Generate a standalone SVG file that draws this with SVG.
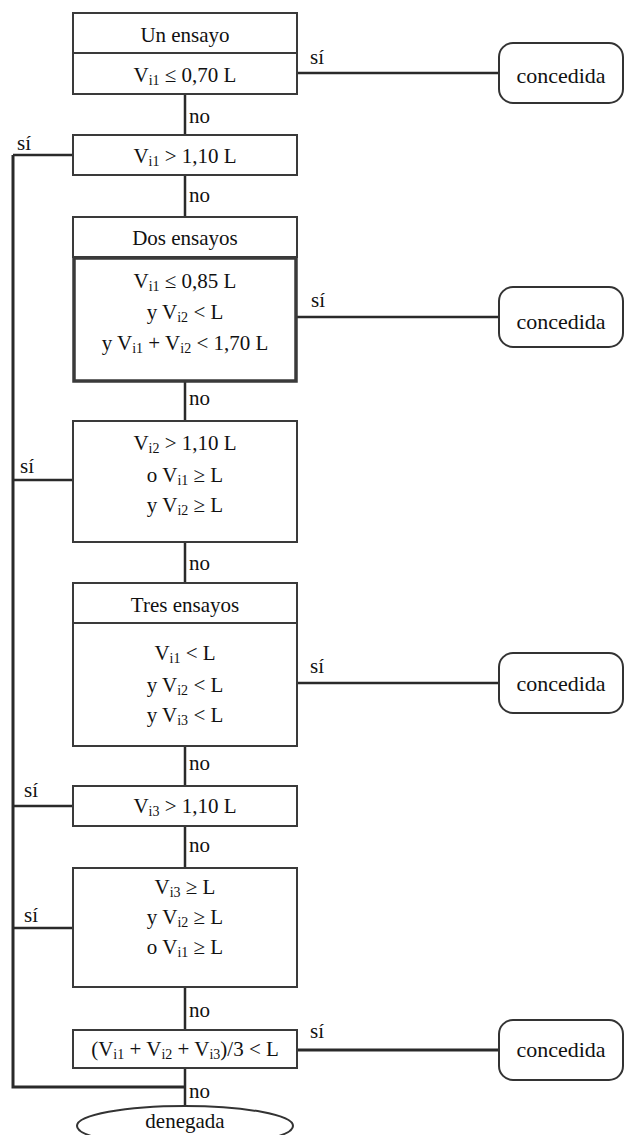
<svg xmlns="http://www.w3.org/2000/svg" width="625" height="1135" viewBox="0 0 625 1135">
<style>
  text { font-family: "Liberation Serif", "Times New Roman", serif; font-size: 21px; fill: #111; }
  .c { text-anchor: middle; }
  .sub { font-size: 14px; }
  .big { font-size: 22px; }
  .box { fill: #fff; stroke: #3a3a3a; stroke-width: 2; }
  .thick { fill: #fff; stroke: #3a3a3a; stroke-width: 3.5; }
  .term { fill: #fff; stroke: #333; stroke-width: 2; }
  .ln { fill: none; stroke: #2a2a2a; stroke-width: 2.5; }
  .lnl { fill: none; stroke: #2a2a2a; stroke-width: 3; }
</style>
<rect width="625" height="1135" fill="#fff"/>

<g id="connectors">
  <path class="ln" d="M185 94V135M185 175V217M185 381V421M185 542V583M185 746V786M185 826V868M185 987V1030M185 1068V1106"/>
  <path class="lnl" d="M13 155V1087H185"/>
  <path class="ln" d="M13 155H73M13 480H73M13 806H73M13 928H73"/>
  <path class="ln" d="M297 73H499M297 317H499M297 683H499"/>
  <path class="lnl" d="M297 1050H499" stroke="#444"/>
  <text x="189" y="123">no</text>
  <text x="189" y="202">no</text>
  <text x="189" y="405">no</text>
  <text x="189" y="570">no</text>
  <text x="189" y="770">no</text>
  <text x="189" y="852">no</text>
  <text x="189" y="1017">no</text>
  <text x="189" y="1098">no</text>
  <text x="17" y="150">sí</text>
  <text x="20" y="473">sí</text>
  <text x="24" y="797">sí</text>
  <text x="24" y="922">sí</text>
  <text x="310" y="64">sí</text>
  <text x="311" y="307">sí</text>
  <text x="310" y="673">sí</text>
  <text x="310" y="1038">sí</text>
</g>

<g id="n1">
  <rect class="box" x="73" y="13" width="224" height="81"/>
  <line class="box" x1="73" y1="53" x2="297" y2="53"/>
  <text class="c" x="185" y="42">Un ensayo</text>
  <text class="c" x="185" y="82">V<tspan class="sub" dy="3">i1</tspan><tspan dy="-3"> ≤ 0,70 L</tspan></text>
</g>

<g id="n2">
  <rect class="box" x="73" y="135" width="224" height="40"/>
  <text class="c" x="185" y="163">V<tspan class="sub" dy="3">i1</tspan><tspan dy="-3"> &gt; 1,10 L</tspan></text>
</g>

<g id="n3">
  <rect class="box" x="73" y="217" width="224" height="40"/>
  <rect class="thick" x="74" y="258" width="222" height="123"/>
  <text class="c" x="185" y="245">Dos ensayos</text>
  <text class="c" x="185" y="288">V<tspan class="sub" dy="3">i1</tspan><tspan dy="-3"> ≤ 0,85 L</tspan></text>
  <text class="c" x="185" y="319">y V<tspan class="sub" dy="3">i2</tspan><tspan dy="-3"> &lt; L</tspan></text>
  <text class="c" x="185" y="350">y V<tspan class="sub" dy="3">i1</tspan><tspan dy="-3"> + V</tspan><tspan class="sub" dy="3">i2</tspan><tspan dy="-3"> &lt; 1,70 L</tspan></text>
</g>

<g id="n4">
  <rect class="box" x="73" y="421" width="224" height="121"/>
  <text class="c" x="185" y="450">V<tspan class="sub" dy="3">i2</tspan><tspan dy="-3"> &gt; 1,10 L</tspan></text>
  <text class="c" x="185" y="482">o V<tspan class="sub" dy="3">i1</tspan><tspan dy="-3"> ≥ L</tspan></text>
  <text class="c" x="185" y="512">y V<tspan class="sub" dy="3">i2</tspan><tspan dy="-3"> ≥ L</tspan></text>
</g>

<g id="n5">
  <rect class="box" x="73" y="583" width="224" height="163"/>
  <line class="box" x1="73" y1="623" x2="297" y2="623"/>
  <text class="c" x="185" y="612">Tres ensayos</text>
  <text class="c" x="185" y="660">V<tspan class="sub" dy="3">i1</tspan><tspan dy="-3"> &lt; L</tspan></text>
  <text class="c" x="185" y="692">y V<tspan class="sub" dy="3">i2</tspan><tspan dy="-3"> &lt; L</tspan></text>
  <text class="c" x="185" y="722">y V<tspan class="sub" dy="3">i3</tspan><tspan dy="-3"> &lt; L</tspan></text>
</g>

<g id="n6">
  <rect class="box" x="73" y="786" width="224" height="40"/>
  <text class="c" x="185" y="813">V<tspan class="sub" dy="3">i3</tspan><tspan dy="-3"> &gt; 1,10 L</tspan></text>
</g>

<g id="n7">
  <rect class="box" x="73" y="868" width="224" height="119"/>
  <text class="c" x="185" y="894">V<tspan class="sub" dy="3">i3</tspan><tspan dy="-3"> ≥ L</tspan></text>
  <text class="c" x="185" y="924">y V<tspan class="sub" dy="3">i2</tspan><tspan dy="-3"> ≥ L</tspan></text>
  <text class="c" x="185" y="954">o V<tspan class="sub" dy="3">i1</tspan><tspan dy="-3"> ≥ L</tspan></text>
</g>

<g id="n8">
  <rect class="box" x="73" y="1030" width="224" height="38"/>
  <text class="c" x="185" y="1056">(V<tspan class="sub" dy="3">i1</tspan><tspan dy="-3"> + V</tspan><tspan class="sub" dy="3">i2</tspan><tspan dy="-3"> + V</tspan><tspan class="sub" dy="3">i3</tspan><tspan dy="-3">)/3 &lt; L</tspan></text>
</g>

<g id="c1">
  <rect class="term" x="499" y="43" width="124" height="60" rx="14"/>
  <text class="c big" x="561" y="83">concedida</text>
</g>
<g id="c2">
  <rect class="term" x="499" y="287" width="124" height="60" rx="14"/>
  <text class="c big" x="561" y="329">concedida</text>
</g>
<g id="c3">
  <rect class="term" x="499" y="653" width="124" height="60" rx="14"/>
  <text class="c big" x="561" y="691">concedida</text>
</g>
<g id="c4">
  <rect class="term" x="499" y="1020" width="124" height="60" rx="14"/>
  <text class="c big" x="561" y="1057">concedida</text>
</g>

<g id="denegada">
  <ellipse class="term" cx="185" cy="1126" rx="108" ry="20"/>
  <text class="c" x="185" y="1128">denegada</text>
</g>
</svg>
